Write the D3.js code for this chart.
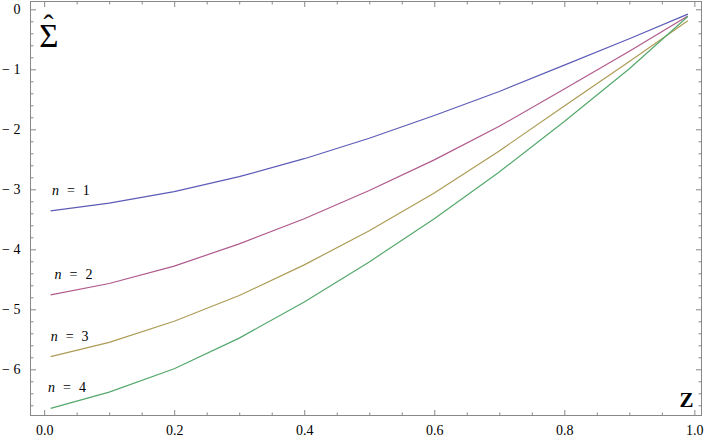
<!DOCTYPE html>
<html>
<head>
<meta charset="utf-8">
<script src="https://cdn.jsdelivr.net/npm/d3@7"></script>
<style>
  body { margin: 0; background: #fff; }
  svg { display: block; }
</style>
</head>
<body>
<svg id="chart" width="708" height="442"></svg>
<script>
// z grid the curves were sampled on
const zValues = [0.01, 0.1, 0.2, 0.3, 0.4, 0.5, 0.6, 0.7, 0.8, 0.9, 0.99];

// Sigma-hat for n = 1..4
const sigmaN1 = [-3.36, -3.23, -3.04, -2.79, -2.49, -2.15, -1.77, -1.37, -0.93, -0.49, -0.08];
const sigmaN2 = [-4.76, -4.57, -4.28, -3.91, -3.49, -3.02, -2.51, -1.95, -1.33, -0.70, -0.11];
const sigmaN3 = [-5.79, -5.55, -5.20, -4.77, -4.26, -3.69, -3.06, -2.36, -1.61, -0.87, -0.19];
const sigmaN4 = [-6.65, -6.38, -5.99, -5.48, -4.88, -4.21, -3.49, -2.71, -1.87, -0.99, -0.12];

const seriesNames = ["1", "2", "3", "4"];
const seriesValues = [sigmaN1, sigmaN2, sigmaN3, sigmaN4];
const colors = ["#5c5cb8", "#b05a8c", "#ad9c55", "#55a86c"];

const xMajor = [0, 0.2, 0.4, 0.6, 0.8, 1.0];
const yMajor = [0, -1, -2, -3, -4, -5, -6];

const frameL = 30.5, frameR = 701.5, frameT = 1.5, frameB = 415.5;
const serif = "'Liberation Serif', 'DejaVu Serif', serif";

const svg = d3.select("#chart");

const x = d3.scaleLinear().domain([-0.021, 1.011]).range([frameL, frameR]);
const y = d3.scaleLinear().domain([-6.77, 0.13]).range([frameB, frameT]);

const xMinor = d3.range(0, 1.0001, 0.05).filter(v => !xMajor.some(m => Math.abs(m - v) < 1e-6));
const yMinor = d3.range(0, -6.7701, -0.2).filter(v => !yMajor.some(m => Math.abs(m - v) < 1e-6));

function style(g) {
    g.select(".domain").remove();
    g.selectAll(".tick line").attr("stroke", "#888");
    g.selectAll(".tick text")
        .style("font-family", serif)
        .style("font-size", "14px")
        .attr("fill", "#000");
}

function addAxis(axis, tx, ty) {
    svg.append("g")
        .attr("transform", `translate(${tx},${ty})`)
        .call(axis)
        .call(style);
}

// bottom / top
addAxis(d3.axisBottom(x).tickValues(xMajor).tickSize(-5.5).tickPadding(10).tickFormat(d3.format(".1f")), 0, frameB);
addAxis(d3.axisBottom(x).tickValues(xMinor).tickSize(-3).tickFormat(""), 0, frameB);
addAxis(d3.axisTop(x).tickValues(xMajor).tickSize(-5.5).tickFormat(""), 0, frameT);
addAxis(d3.axisTop(x).tickValues(xMinor).tickSize(-3).tickFormat(""), 0, frameT);

// left / right
const yFmt = d => d === 0 ? "0" : "\u2212 " + Math.abs(d);
addAxis(d3.axisLeft(y).tickValues(yMajor).tickSize(-5.5).tickPadding(10).tickFormat(yFmt), frameL, 0);
addAxis(d3.axisLeft(y).tickValues(yMinor).tickSize(-3).tickFormat(""), frameL, 0);
addAxis(d3.axisRight(y).tickValues(yMajor).tickSize(-5.5).tickFormat(""), frameR, 0);
addAxis(d3.axisRight(y).tickValues(yMinor).tickSize(-3).tickFormat(""), frameR, 0);

// frame
svg.append("rect")
    .attr("x", frameL).attr("y", frameT)
    .attr("width", frameR - frameL).attr("height", frameB - frameT)
    .attr("fill", "none").attr("stroke", "#888").attr("stroke-width", 1);

// curves
const line = d3.line()
    .x((d, i) => x(zValues[i]))
    .y(d => y(d));

svg.append("g")
    .selectAll("path")
    .data(seriesValues)
    .join("path")
    .attr("d", line)
    .attr("fill", "none")
    .attr("stroke", (d, i) => colors[i])
    .attr("stroke-width", 1.2);

// n = k labels sit just above where each curve starts
const labelZ = [0.012, 0.016, 0.010, 0.006];
const labels = svg.append("g")
    .style("font-family", serif)
    .style("font-size", "14px");
seriesValues.forEach((vals, i) => {
    const t = labels.append("text")
        .attr("x", x(labelZ[i]))
        .attr("y", y(vals[0]) - 16);
    t.append("tspan").attr("font-style", "italic").text("n");
    t.append("tspan").attr("dx", 8).text("=");
    t.append("tspan").attr("dx", 8).text(seriesNames[i]);
});

// axis titles: sigma with a hat (one text element), and Z
const sigmaTitle = svg.append("text")
    .attr("x", x(0.008) - 10).attr("y", 47)
    .style("font-family", serif)
    .style("font-size", "33px");
sigmaTitle.append("tspan").text("\u03A3");
sigmaTitle.append("tspan")
    .attr("dx", -15).attr("dy", -12)
    .style("font-size", "30px")
    .text("\u02C6");
svg.append("text")
    .attr("x", x(0.988)).attr("y", 407)
    .attr("text-anchor", "middle")
    .style("font-family", serif)
    .style("font-weight", "bold")
    .style("font-size", "21px")
    .text("Z");
</script>
</body>
</html>
